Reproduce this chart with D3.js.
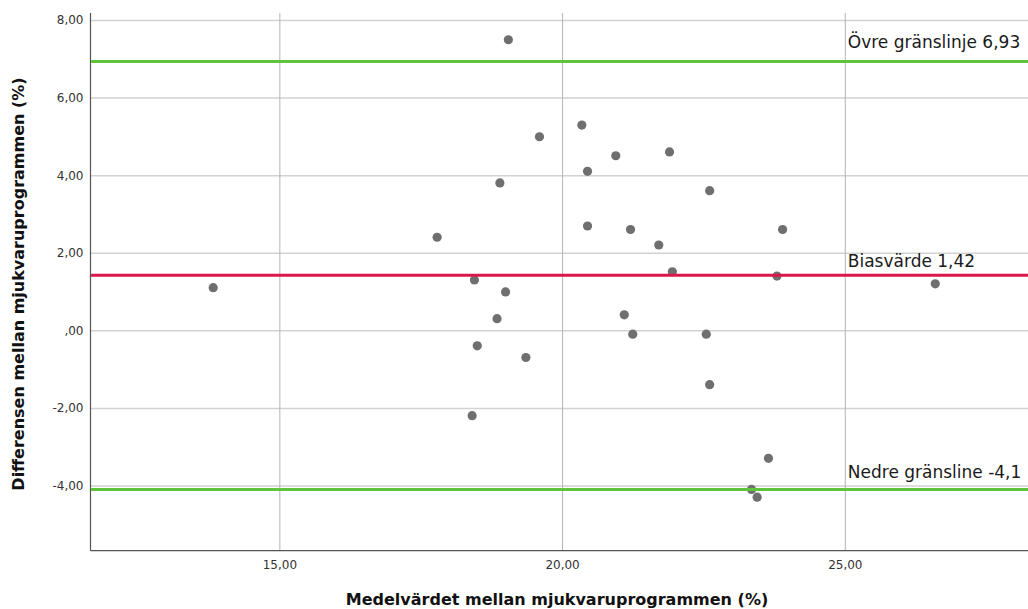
<!DOCTYPE html>
<html>
<head>
<meta charset="utf-8">
<script src="https://cdn.jsdelivr.net/npm/d3@7"></script>
<style>
  html, body { margin: 0; padding: 0; background: #fff; }
  svg { display: block; }
</style>
</head>
<body>
<svg id="chart" width="1028" height="609"></svg>
<script>
// Data: mean of the two programs (x) and difference (y)
const meanValues = [13.83, 17.79, 18.90, 19.05, 19.60, 20.35, 20.45, 20.95, 21.90, 20.45,
                    21.21, 21.71, 21.95, 18.45, 19.00, 18.85, 21.10, 21.25, 18.50, 19.36,
                    18.41, 22.61, 23.90, 23.80, 26.60, 22.55, 22.61, 23.65, 23.35, 23.45];
const diffValues = [1.10, 2.40, 3.80, 7.49, 4.99, 5.29, 4.10, 4.50, 4.60, 2.69,
                    2.60, 2.20, 1.51, 1.30, 0.99, 0.30, 0.40, -0.10, -0.40, -0.70,
                    -2.20, 3.60, 2.60, 1.40, 1.20, -0.10, -1.40, -3.30, -4.10, -4.30];
const xTicks = [15, 20, 25];
const yTicks = [-4, -2, 0, 2, 4, 6, 8];
const refValues = [6.93, 1.42, -4.1];
const refLabels = ["Övre gränslinje 6,93", "Biasvärde 1,42", "Nedre gränsline -4,1"];
const refKinds = ["limit", "bias", "limit"];
const xTitle = "Medelvärdet mellan mjukvaruprogrammen (%)";
const yTitle = "Differensen mellan mjukvaruprogrammen (%)";

(function () {
const svg = d3.select("#chart");
const pLeft = 90.5, pRight = 1028, pTop = 13, pBottom = 550.7;

const x = d3.scaleLinear().domain([11.66, 28.24]).range([pLeft, pRight]);
const y = d3.scaleLinear().domain([-5.68, 8.18]).range([pBottom, pTop]);

const fmt = v => {
  let s = d3.format(".2f")(Math.abs(v)).replace(".", ",");
  if (s.startsWith("0,")) s = s.slice(1);
  return (v < 0 ? "-" : "") + s;
};

// horizontal gridlines
svg.append("g")
  .attr("transform", `translate(${pLeft},0)`)
  .call(d3.axisLeft(y).tickValues(yTicks).tickSize(-(pRight - pLeft)).tickFormat(fmt).tickPadding(7))
  .call(g => {
    g.select(".domain").remove();
    g.selectAll(".tick line").attr("stroke", "#d2d2d2").attr("stroke-width", 1.5);
    g.selectAll(".tick text").attr("fill", "#333").style("font-family", "DejaVu Sans, sans-serif").style("font-size", "12px");
  });

// vertical gridlines
svg.append("g")
  .attr("transform", `translate(0,${pBottom})`)
  .call(d3.axisBottom(x).tickValues(xTicks).tickSize(-(pBottom - pTop)).tickFormat(fmt).tickPadding(10))
  .call(g => {
    g.select(".domain").remove();
    g.selectAll(".tick line").attr("stroke", "#b4b4b4").attr("stroke-width", 1);
    g.selectAll(".tick text").attr("fill", "#333").style("font-family", "DejaVu Sans, sans-serif").style("font-size", "12px");
  });

// axis lines
svg.append("line").attr("x1", pLeft).attr("x2", pLeft).attr("y1", pTop).attr("y2", pBottom)
  .attr("stroke", "#555").attr("stroke-width", 1.2);
svg.append("line").attr("x1", pLeft).attr("x2", pRight).attr("y1", pBottom).attr("y2", pBottom)
  .attr("stroke", "#555").attr("stroke-width", 1.2);

// points
svg.append("g").selectAll("circle")
  .data(meanValues.map((m, i) => [m, diffValues[i]]))
  .join("circle")
  .attr("cx", d => x(d[0]))
  .attr("cy", d => y(d[1]))
  .attr("r", 4.6)
  .attr("fill", "#6f6f6f");

// reference lines
const refG = svg.append("g");
refValues.forEach((v, i) => {
  refG.append("line")
    .attr("x1", pLeft + 0.6).attr("x2", pRight)
    .attr("y1", y(v)).attr("y2", y(v))
    .attr("stroke", refKinds[i] === "bias" ? "#d8174a" : "#5ec43a")
    .attr("stroke-width", 3);
});
const labelOffsets = [13, 8.5, 11];
refValues.forEach((v, i) => {
  refG.append("text")
    .attr("x", x(25) + 3)
    .attr("y", y(v) - labelOffsets[i])
    .attr("fill", "#1a1a1a")
    .style("font-family", "DejaVu Sans, sans-serif")
    .style("font-size", "17px")
    .text(refLabels[i]);
});

// axis titles
svg.append("text")
  .attr("x", 557).attr("y", 605)
  .attr("text-anchor", "middle")
  .attr("fill", "#111")
  .style("font-family", "DejaVu Sans, sans-serif")
  .style("font-weight", "bold")
  .style("font-size", "16px")
  .text(xTitle);

svg.append("text")
  .attr("transform", "translate(24,284) rotate(-90)")
  .attr("text-anchor", "middle")
  .attr("fill", "#111")
  .style("font-family", "DejaVu Sans, sans-serif")
  .style("font-weight", "bold")
  .style("font-size", "16px")
  .text(yTitle);
})();
</script>
</body>
</html>
